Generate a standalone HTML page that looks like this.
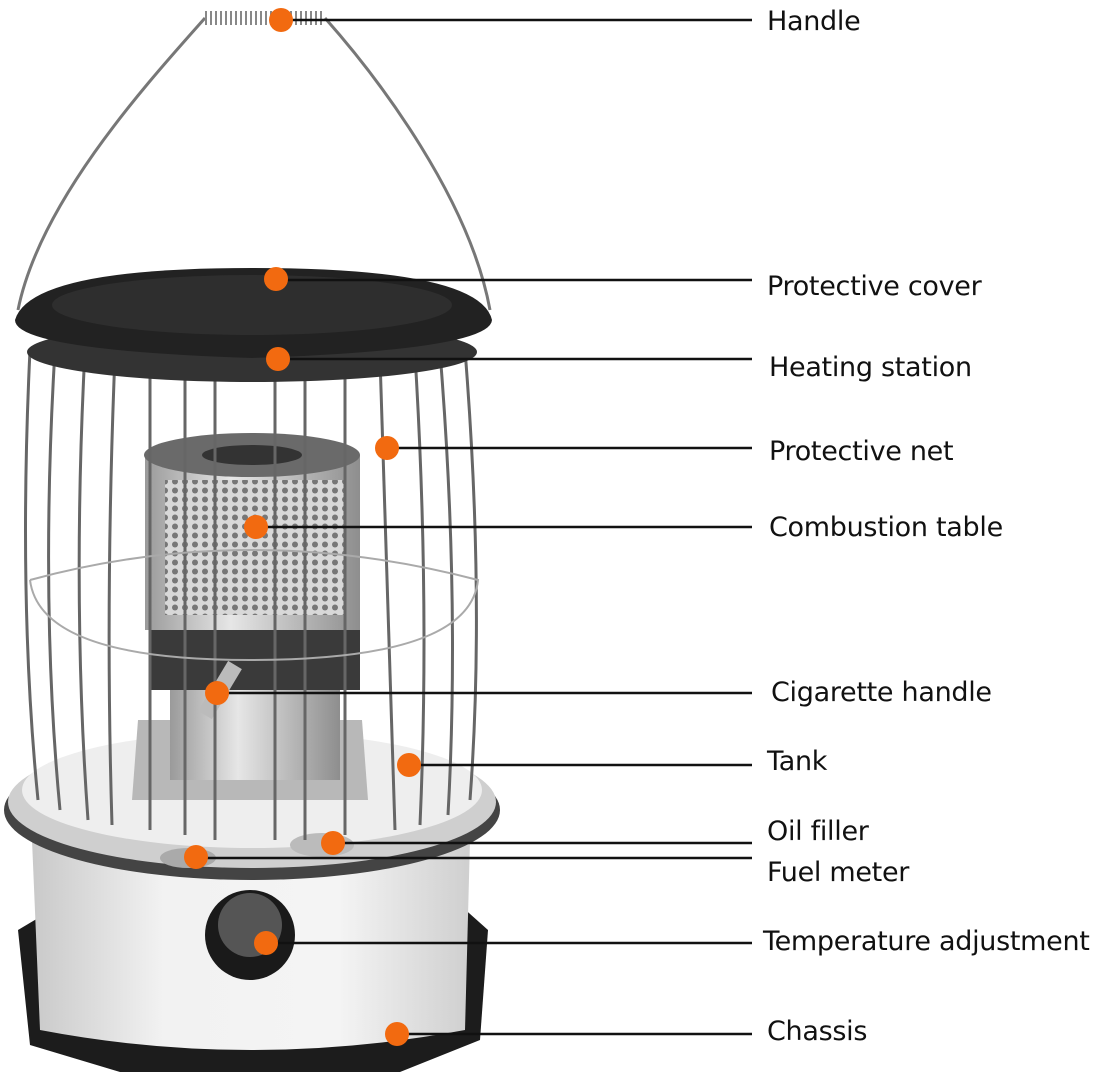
<!DOCTYPE html>
<html><head><meta charset="utf-8"><style>
html,body{margin:0;padding:0;background:#fff;}
body{width:1098px;height:1084px;overflow:hidden;position:relative;font-family:"DejaVu Sans","Liberation Sans",sans-serif;}
.t{position:absolute;left:767px;font-size:27px;color:#111;line-height:30px;white-space:nowrap;letter-spacing:-0.3px;}
</style></head><body>
<svg width="1098" height="1084" style="position:absolute;left:0;top:0">
<defs>
<linearGradient id="body" x1="0" x2="1"><stop offset="0" stop-color="#c9c9c9"/><stop offset="0.3" stop-color="#f2f2f2"/><stop offset="0.7" stop-color="#f4f4f4"/><stop offset="1" stop-color="#cfcfcf"/></linearGradient>
<linearGradient id="cyl" x1="0" x2="1"><stop offset="0" stop-color="#9a9a9a"/><stop offset="0.4" stop-color="#e6e6e6"/><stop offset="1" stop-color="#8e8e8e"/></linearGradient>
<pattern id="mesh" width="10" height="9" patternUnits="userSpaceOnUse"><rect width="10" height="9" fill="#d8d8d8"/><circle cx="5" cy="4.5" r="3" fill="#777"/></pattern>
</defs>
<path d="M205 18 C150 80 40 200 18 310" stroke="#777" stroke-width="3" fill="none"/>
<path d="M325 18 C380 80 470 200 490 310" stroke="#777" stroke-width="3" fill="none"/>
<path d="M205 18 L325 18" stroke="#888" stroke-width="14" stroke-dasharray="2 3" fill="none"/>
<path d="M18 930 L60 905 L460 905 L488 930 L480 1040 L400 1072 L120 1072 L30 1045 Z" fill="#1c1c1c"/>
<path d="M32 840 L470 840 L465 1030 Q250 1070 40 1030 Z" fill="url(#body)"/>
<ellipse cx="252" cy="810" rx="248" ry="70" fill="#444"/>
<ellipse cx="252" cy="802" rx="244" ry="66" fill="#cfcfcf"/>
<ellipse cx="252" cy="790" rx="230" ry="58" fill="#eeeeee"/>
<path d="M138 720 L362 720 L368 800 L132 800 Z" fill="#b8b8b8"/>
<rect x="170" y="690" width="170" height="90" fill="url(#cyl)"/>
<rect x="150" y="620" width="210" height="70" fill="#3a3a3a"/>
<rect x="145" y="455" width="215" height="175" fill="url(#cyl)"/>
<ellipse cx="252" cy="455" rx="108" ry="22" fill="#6a6a6a"/>
<ellipse cx="252" cy="455" rx="50" ry="10" fill="#333"/>
<rect x="165" y="480" width="180" height="135" fill="url(#mesh)"/>
<path d="M205 715 L235 665" stroke="#bbb" stroke-width="16"/>
<circle cx="250" cy="935" r="45" fill="#1a1a1a"/>
<circle cx="250" cy="925" r="32" fill="#555"/>
<ellipse cx="188" cy="858" rx="28" ry="10" fill="#aaa"/>
<ellipse cx="322" cy="845" rx="32" ry="12" fill="#bbb"/>
<g stroke="#666" stroke-width="3" fill="none">
<path d="M30 350 Q18 600 38 800"/><path d="M55 350 Q40 600 60 810"/><path d="M85 350 Q72 600 88 820"/><path d="M115 355 Q105 600 112 825"/>
<path d="M150 360 L150 830"/><path d="M185 360 L185 835"/><path d="M215 362 L215 840"/><path d="M275 362 L275 840"/><path d="M305 362 L305 840"/>
<path d="M345 360 L345 835"/><path d="M380 358 L395 830"/><path d="M415 355 Q430 600 420 825"/><path d="M440 352 Q460 600 448 815"/><path d="M465 350 Q485 600 470 800"/>
</g>
<path d="M30 580 Q250 520 478 580 Q470 660 250 660 Q40 660 30 580" stroke="#aaa" stroke-width="2" fill="none"/>
<ellipse cx="252" cy="352" rx="225" ry="30" fill="#333"/>
<path d="M15 320 Q30 268 252 268 Q480 268 492 320 Q490 350 252 358 Q15 350 15 320 Z" fill="#222"/>
<ellipse cx="252" cy="305" rx="200" ry="30" fill="#2e2e2e"/>
<g stroke="#111" stroke-width="2.5">
<line x1="281" y1="20" x2="752" y2="20"/>
<line x1="276" y1="280" x2="752" y2="280"/>
<line x1="278" y1="359" x2="752" y2="359"/>
<line x1="387" y1="448" x2="752" y2="448"/>
<line x1="256" y1="527" x2="752" y2="527"/>
<line x1="217" y1="693" x2="752" y2="693"/>
<line x1="409" y1="765" x2="752" y2="765"/>
<line x1="333" y1="843" x2="752" y2="843"/>
<line x1="196" y1="858" x2="752" y2="858"/>
<line x1="266" y1="943" x2="752" y2="943"/>
<line x1="397" y1="1034" x2="752" y2="1034"/>
</g>
<g fill="#f26a10">
<circle cx="281" cy="20" r="12"/><circle cx="276" cy="279" r="12"/><circle cx="278" cy="359" r="12"/>
<circle cx="387" cy="448" r="12"/><circle cx="256" cy="527" r="12"/><circle cx="217" cy="693" r="12"/>
<circle cx="409" cy="765" r="12"/><circle cx="333" cy="843" r="12"/><circle cx="196" cy="857" r="12"/>
<circle cx="266" cy="943" r="12"/><circle cx="397" cy="1034" r="12"/>
</g>
</svg>
<div class="t" style="top:7px">Handle</div>
<div class="t" style="top:272px">Protective cover</div>
<div class="t" style="top:353px;left:769px">Heating station</div>
<div class="t" style="top:437px;left:769px">Protective net</div>
<div class="t" style="top:513px;left:769px">Combustion table</div>
<div class="t" style="top:678px;left:771px">Cigarette handle</div>
<div class="t" style="top:747px">Tank</div>
<div class="t" style="top:817px">Oil filler</div>
<div class="t" style="top:858px">Fuel meter</div>
<div class="t" style="top:927px;left:763px">Temperature adjustment</div>
<div class="t" style="top:1017px">Chassis</div>
</body></html>
